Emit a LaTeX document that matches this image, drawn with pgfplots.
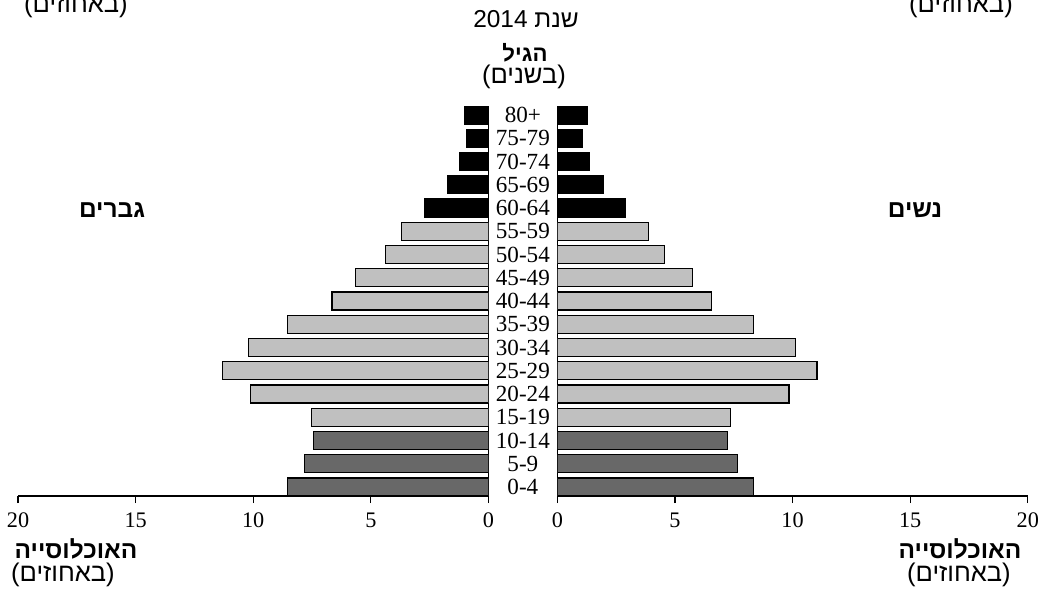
\documentclass[border=0pt]{standalone}
\usepackage{fontspec}
\setmainfont{Liberation Serif}
\newfontfamily\heb[Script=Hebrew]{Liberation Sans}
\TeXXeTstate=1
\usepackage{pgfplots}
\pgfplotsset{compat=1.18}
\usepackage{pgfplotstable}

\definecolor{lgray}{HTML}{C0C0C0}
\definecolor{dgray}{HTML}{686868}

% y = age group index (0 = 0-4 ... 16 = 80+), m = men %, f = women %
\pgfplotstableread{
y  m     f
0  8.54  8.35
1  7.83  7.65
2  7.44  7.25
3  7.54  7.37
4  10.13 9.85
5  11.31 11.04
6  10.21 10.14
7  8.54  8.35
8  6.65  6.56
9  5.66  5.75
10 4.37  4.56
11 3.68  3.87
12 2.70  2.88
13 1.72  1.97
14 1.23  1.38
15 0.91  1.08
16 1.03  1.28
}\pyr

\pgfplotsset{
  pyr/.style={
    scale only axis, width=211.7pt, height=175.5pt,
    ymin=-0.39, ymax=16.39,
    axis line style={-, line width=0.5pt},
    tick align=outside, major tick length=3.2pt,
    every tick/.style={black, line width=0.5pt},
    /pgf/number format/assume math mode=true,
    x tick label style={font=\fontsize{10}{12}\selectfont, yshift=-1pt},
  },
  bars/.style={xbar, bar width=8.1pt, bar shift=0pt, draw=black, line width=0.5pt},
}

\begin{document}
\begin{tikzpicture}
% men, drawn to the left
\begin{axis}[pyr,
  at={(8.1pt,-223.2pt)}, anchor=south west,
  xmin=-20, xmax=0,
  axis x line*=bottom, axis y line*=right,
  xtick={-20,-15,-10,-5,0}, xticklabels={20,15,10,5,0},
  ytick={0,...,16},
  yticklabels={0-4,5-9,10-14,15-19,20-24,25-29,30-34,35-39,40-44,45-49,50-54,55-59,60-64,65-69,70-74,75-79,80+},
  y tick style={draw=none},
  yticklabel style={anchor=center, xshift=12.3pt, font=\fontsize{10.4}{11}\selectfont},
]
\addplot[bars, fill=black, restrict y to domain=12:16] table[x expr=-\thisrow{m}, y=y] {\pyr};
\addplot[bars, fill=lgray, restrict y to domain=3:11] table[x expr=-\thisrow{m}, y=y] {\pyr};
\addplot[bars, fill=dgray, restrict y to domain=0:2] table[x expr=-\thisrow{m}, y=y] {\pyr};
\end{axis}
% women, drawn to the right
\begin{axis}[pyr,
  at={(250.8pt,-223.2pt)}, anchor=south west,
  xmin=0, xmax=20,
  axis x line*=bottom, axis y line*=left,
  xtick={0,5,10,15,20}, ytick=\empty,
]
\addplot[bars, fill=black, restrict y to domain=12:16] table[x=f, y=y] {\pyr};
\addplot[bars, fill=lgray, restrict y to domain=3:11] table[x=f, y=y] {\pyr};
\addplot[bars, fill=dgray, restrict y to domain=0:2] table[x=f, y=y] {\pyr};
\end{axis}

\begin{scope}[x=0.45pt, y=-0.45pt]
  \node[font=\heb\fontsize{11.5}{12}\selectfont] at (76,6) {\beginR(באחוזים)\endR};
  \node[font=\heb\fontsize{11.5}{12}\selectfont] at (961,6) {\beginR(באחוזים)\endR};
  \node[font=\heb\fontsize{11}{12}\selectfont] at (526,19) {\beginR שנת \beginL2014\endL\endR};
  \node[font=\heb\bfseries\fontsize{10}{11}\selectfont] at (525,53) {\beginR הגיל\endR};
  \node[font=\heb\fontsize{11.5}{12}\selectfont] at (524,77) {\beginR(בשנים)\endR};
  \node[font=\heb\bfseries\fontsize{11}{12}\selectfont] at (112,210) {\beginR גברים\endR};
  \node[font=\heb\bfseries\fontsize{11}{12}\selectfont] at (915,210) {\beginR נשים\endR};
  \node[font=\heb\bfseries\fontsize{11}{12}\selectfont] at (76,549) {\beginR האוכלוסייה\endR};
  \node[font=\heb\bfseries\fontsize{11}{12}\selectfont] at (960,549) {\beginR האוכלוסייה\endR};
  \node[font=\heb\fontsize{11.5}{12}\selectfont] at (63,575) {\beginR(באחוזים)\endR};
  \node[font=\heb\fontsize{11.5}{12}\selectfont] at (959,575) {\beginR(באחוזים)\endR};
\end{scope}

\pgfresetboundingbox
\path[use as bounding box] (0pt,0pt) rectangle (471.6pt,-265.95pt);
\end{tikzpicture}
\end{document}
